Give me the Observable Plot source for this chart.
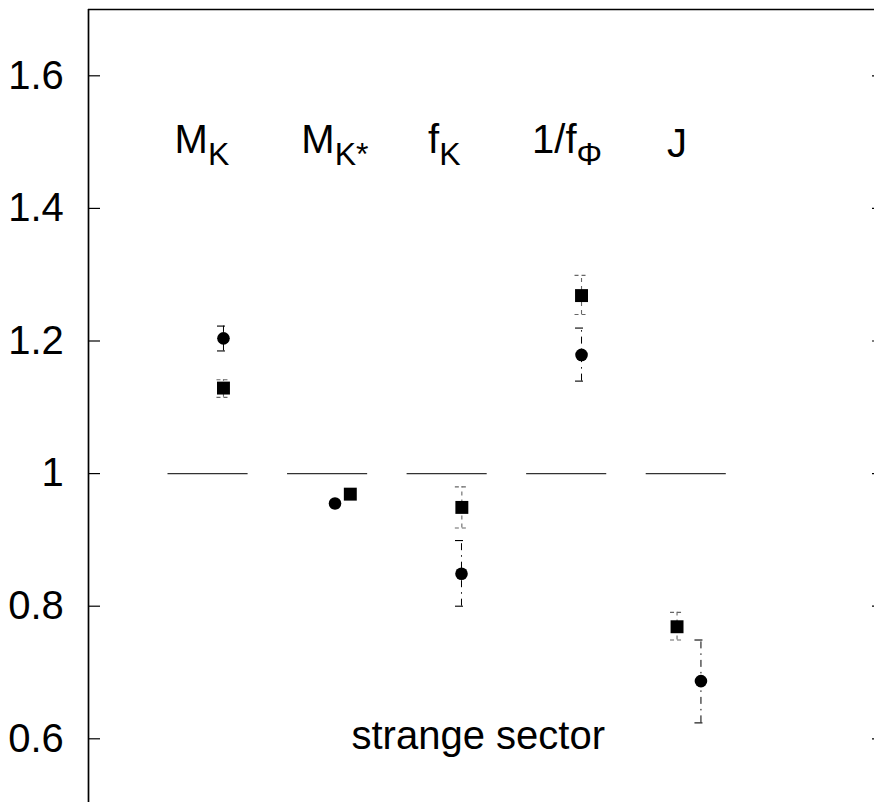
<!DOCTYPE html>
<html>
<head>
<meta charset="utf-8">
<script src="https://cdn.jsdelivr.net/npm/d3@7"></script>
<script src="https://cdn.jsdelivr.net/npm/@observablehq/plot@0.6"></script>
<style>
  html, body { margin: 0; padding: 0; background: #fff; }
  #chart svg { display: block; }
</style>
</head>
<body>
<div id="chart"></div>
<script>
// Categories and their x positions
const categories = ["M_K", "M_K*", "f_K", "1/f_Φ", "J"];
const catX = [1, 2, 3, 4, 5];

// Category labels (main text + subscript), in data coordinates
const labelMain = ["M", "M", "f", "1/f", "J"];
const labelSub = ["K", "K*", "K", "Φ", ""];
const labelX = [0.72, 1.78, 2.84, 3.71, 4.84];
const labelY = [1.483, 1.483, 1.483, 1.483, 1.477];

// Series 1: filled circles with dash-dot error bars
const circX = [1.129, 2.062, 3.12, 4.124, 5.123];
const circY = [1.204, 0.955, 0.849, 1.179, 0.687];
const circLo = [1.185, 0.955, 0.800, 1.1395, 0.624];
const circHi = [1.2225, 0.955, 0.899, 1.2195, 0.749];

// Series 2: filled squares with dashed error bars
const sqX = [1.129, 2.19, 3.123, 4.124, 4.923];
const sqY = [1.129, 0.969, 0.949, 1.2685, 0.769];
const sqLo = [1.115, 0.969, 0.918, 1.240, 0.749];
const sqHi = [1.1415, 0.969, 0.980, 1.299, 0.7907];

// Y ticks
const yTicks = [0.6, 0.8, 1, 1.2, 1.4, 1.6];

// Annotation
const note = {text: "strange sector", x: 2.2, y: 0.5845};

const refHalf = 0.335;

const cats = categories.map((c, i) => ({name: c, x: catX[i]}));
const labels = labelMain.map((m, i) => ({main: m, sub: labelSub[i], x: labelX[i], y: labelY[i]}));
const circ = circX.map((x, i) => ({x, y: circY[i], lo: circLo[i], hi: circHi[i]}));
const sq = sqX.map((x, i) => ({x, y: sqY[i], lo: sqLo[i], hi: sqHi[i]}));
const circErr = circ.filter(d => d.hi > d.lo);
const sqErr = sq.filter(d => d.hi > d.lo);

const FONT = "'Liberation Sans', Arial, Helvetica, sans-serif";

const plot = Plot.plot({
  width: 874,
  height: 802,
  marginLeft: 88,
  marginRight: -9,
  marginTop: 9,
  marginBottom: -2.6,
  style: {fontFamily: FONT, background: "#fff", color: "#000"},
  x: {domain: [0, 6.65], axis: null},
  y: {domain: [0.5, 1.7], axis: null},
  marks: [
    // frame: left axis line and top border
    Plot.ruleX([0], {stroke: "#000", strokeWidth: 1.7}),
    Plot.ruleY([1.7], {stroke: "#000", strokeWidth: 1.7}),
    // left axis ticks + labels
    Plot.axisY({
      anchor: "left", ticks: yTicks, tickSize: -12, tickPadding: 36.7,
      fontSize: 40, tickFormat: d => String(d), stroke: "#000", fill: "#000", strokeWidth: 1.2
    }),
    // right (inward) ticks, no labels
    Plot.axisY({
      anchor: "right", ticks: yTicks, tickSize: -12, tickFormat: () => "", stroke: "#000", strokeWidth: 1.2
    }),
    // reference lines at 1
    Plot.ruleY(cats, {x1: d => d.x - refHalf, x2: d => d.x + refHalf, y: () => 1, stroke: "#333", strokeWidth: 1.1}),
    // square error bars (dashed, grey)
    Plot.ruleX(sqErr, {x: "x", y1: "lo", y2: "hi", stroke: "#666", strokeWidth: 1.1, strokeDasharray: "4,4"}),
    Plot.ruleY(sqErr, {x1: "x", x2: "x", y: "lo", insetLeft: -6.5, insetRight: -6.5, stroke: "#666", strokeWidth: 1.1, strokeDasharray: "4,3"}),
    Plot.ruleY(sqErr, {x1: "x", x2: "x", y: "hi", insetLeft: -6.5, insetRight: -6.5, stroke: "#666", strokeWidth: 1.1, strokeDasharray: "4,3"}),
    // circle error bars (dash-dot, black)
    Plot.ruleX(circErr, {x: "x", y1: "lo", y2: "hi", stroke: "#000", strokeWidth: 1, strokeDasharray: "7,5,1.5,5"}),
    Plot.ruleY(circErr, {x1: "x", x2: "x", y: "lo", insetLeft: -6, insetRight: -2, stroke: "#000", strokeWidth: 1.1}),
    Plot.ruleY(circErr, {x1: "x", x2: "x", y: "hi", insetLeft: -6, insetRight: -2, stroke: "#000", strokeWidth: 1.1}),
    // markers
    Plot.dot(sq, {x: "x", y: "y", symbol: "square", r: 7.3, fill: "#000", stroke: "none"}),
    Plot.dot(circ, {x: "x", y: "y", symbol: "circle", r: 6.3, fill: "#000", stroke: "none"}),
    // category labels
    Plot.text(labels, {
      x: "x", y: "y", text: "main", textAnchor: "start", lineAnchor: "bottom",
      fontSize: 40, fill: "#000"
    }),
    // annotation
    Plot.text([note], {
      x: "x", y: "y", text: "text", textAnchor: "start", lineAnchor: "bottom",
      fontSize: 40, fill: "#000"
    })
  ]
});

// add subscripts as tspans: find the group whose texts are the category labels
const groups = Array.from(plot.querySelectorAll("g"));
const labelGroup = groups.find(g => {
  const ts = Array.from(g.children).filter(c => c.tagName.toLowerCase() === "text");
  return ts.length === labels.length && ts.every((t, i) => t.textContent === labels[i].main);
});
if (labelGroup) {
  Array.from(labelGroup.children).filter(c => c.tagName.toLowerCase() === "text").forEach((t, i) => {
    const sub = labels[i].sub;
    if (sub) {
      const ts = document.createElementNS("http://www.w3.org/2000/svg", "tspan");
      ts.setAttribute("dy", "11.6");
      ts.setAttribute("font-size", "32");
      ts.textContent = sub;
      t.appendChild(ts);
    }
  });
}

document.getElementById("chart").appendChild(plot);
</script>
</body>
</html>
